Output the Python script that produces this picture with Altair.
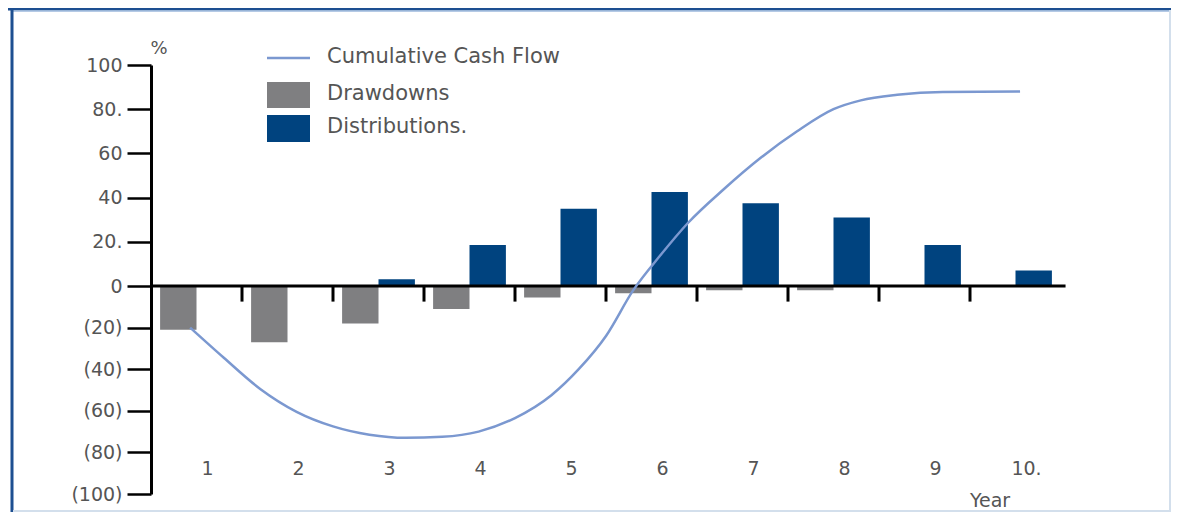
import altair as alt
import pandas as pd

# ---------------- data ----------------
years = [1, 2, 3, 4, 5, 6, 7, 8, 9, 10]
year_labels = ["1", "2", "3", "4", "5", "6", "7", "8", "9", "10."]
drawdowns = [-21, -27, -18, -11, -5.5, -3.5, -2, -2, 0, 0]
distributions = [0, 0, 3, 18.5, 35, 42.5, 37.5, 31, 18.5, 7]

curve_x = [0.93, 1.3, 1.7, 2.1, 2.5, 2.9, 3.3, 3.7, 4.1, 4.5, 4.9, 5.2,
           5.5, 5.8, 6.1, 6.4, 6.8, 7.2, 7.6, 8.0, 8.3, 8.7, 9.2, 10.05]
curve_y = [-20, -34.5, -49.5, -60.5, -67.5, -71.5, -73, -72.5, -70, -63.5, -52.5, -40,
           -24, -2, 14, 28.5, 44, 58, 70, 80, 84, 86.5, 87.8, 88]

y_ticks = [100, 80, 60, 40, 20, 0, -20, -40, -60, -80, -100]
y_tick_labels = ["100", "80.", "60", "40", "20.", "0", "(20)", "(40)", "(60)", "(80)", "(100)"]
legend_labels = ["Cumulative Cash Flow", "Drawdowns", "Distributions."]

# ---------------- styles ----------------
GRAY = "#7f7f81"
BLUE = "#00437f"
LINE = "#7b98d0"
TEXT = "#555555"
FONT = "DejaVu Sans"
W, H = 910, 429

df = pd.DataFrame({"year": years, "label": year_labels,
                   "drawdown": drawdowns, "distribution": distributions})
curve = pd.DataFrame({"cx": curve_x, "cy": curve_y})
one = pd.DataFrame({"a": [0]})

xscale = alt.Scale(domain=[0.5, 10.5], nice=False, zero=False)
yscale = alt.Scale(domain=[-100, 0, 100], range=[H, 221, 0], nice=False, zero=False)

label_expr = " : ".join(f"datum.value == {v} ? '{l}'" for v, l in zip(y_ticks, y_tick_labels)) + " : ''"
yaxis = alt.Axis(values=y_ticks, labelExpr=label_expr, title=None, grid=False,
                 domainColor="black", domainWidth=3, tickColor="black", tickWidth=2.5,
                 tickSize=24, labelFontSize=19, labelColor=TEXT, labelFont=FONT,
                 labelPadding=5)

gray_bars = alt.Chart(df).transform_filter("datum.drawdown < 0").transform_calculate(
    x0="datum.year - 0.4", x1="datum.year"
).mark_bar(color=GRAY).encode(
    x=alt.X("x0:Q", scale=xscale, axis=None),
    x2="x1:Q",
    y=alt.Y("drawdown:Q", scale=yscale, axis=yaxis),
    y2=alt.Y2(datum=0),
)

blue_bars = alt.Chart(df).transform_filter("datum.distribution > 0").transform_calculate(
    x0="datum.year", x1="datum.year + 0.4"
).mark_bar(color=BLUE).encode(
    x=alt.X("x0:Q", scale=xscale, axis=None),
    x2="x1:Q",
    y=alt.Y("distribution:Q", scale=yscale, axis=yaxis),
    y2=alt.Y2(datum=0),
)

x_axis_line = alt.Chart(one).mark_rule(color="black", strokeWidth=3).encode(
    x=alt.X(datum=0.5, scale=xscale, axis=None),
    x2=alt.X2(datum=10.55),
    y=alt.Y(datum=0, scale=yscale, axis=yaxis),
)

x_ticks = alt.Chart(df).transform_filter("datum.year < 10").transform_calculate(
    b="datum.year + 0.5"
).mark_rule(color="black", strokeWidth=3).encode(
    x=alt.X("b:Q", scale=xscale, axis=None),
    y=alt.Y(datum=0, scale=yscale, axis=yaxis),
    y2=alt.Y2(datum=-7.5),
)

x_labels = alt.Chart(df).mark_text(font=FONT, fontSize=19, color=TEXT, dx=11,
                                   baseline="middle", align="center").encode(
    x=alt.X("year:Q", scale=xscale, axis=None),
    y=alt.Y(datum=-88, scale=yscale, axis=yaxis),
    text="label:N",
)

cum_line = alt.Chart(curve).mark_line(color=LINE, strokeWidth=2.5, interpolate="monotone").encode(
    x=alt.X("cx:Q", scale=xscale, axis=None),
    y=alt.Y("cy:Q", scale=yscale, axis=yaxis),
)

year_title = alt.Chart(one).mark_text(text="Year", font=FONT, fontSize=19, color=TEXT,
                                      baseline="middle", align="center").encode(
    x=alt.value(839), y=alt.value(436))

pct = alt.Chart(one).mark_text(text="%", font=FONT, fontSize=18, color=TEXT,
                               baseline="middle", align="center").encode(
    x=alt.value(8), y=alt.value(-16))

# ---------------- legend ----------------
leg_line = alt.Chart(one).mark_rule(color=LINE, strokeWidth=2.5).encode(
    x=alt.value(116), x2=alt.value(159), y=alt.value(-7))
leg_gray = alt.Chart(one).mark_rect(color=GRAY).encode(
    x=alt.value(116), x2=alt.value(159), y=alt.value(17), y2=alt.value(43))
leg_blue = alt.Chart(one).mark_rect(color=BLUE).encode(
    x=alt.value(116), x2=alt.value(159), y=alt.value(50), y2=alt.value(77))
leg_t1 = alt.Chart(one).mark_text(text=legend_labels[0], font=FONT, fontSize=21, color=TEXT,
                                  align="left", baseline="middle").encode(
    x=alt.value(176), y=alt.value(-8))
leg_t2 = alt.Chart(one).mark_text(text=legend_labels[1], font=FONT, fontSize=21, color=TEXT,
                                  align="left", baseline="middle").encode(
    x=alt.value(176), y=alt.value(29))
leg_t3 = alt.Chart(one).mark_text(text=legend_labels[2], font=FONT, fontSize=21, color=TEXT,
                                  align="left", baseline="middle").encode(
    x=alt.value(176), y=alt.value(62))

# ---------------- frame ----------------
frame_top = alt.Chart(one).mark_rule(color="#1d4f91", strokeWidth=3).encode(
    x=alt.value(-143), x2=alt.value(1020), y=alt.value(-56))
frame_top2 = alt.Chart(one).mark_rule(color="#9cb9dc", strokeWidth=1.5).encode(
    x=alt.value(-140), x2=alt.value(1020), y=alt.value(-54))
frame_left = alt.Chart(one).mark_rule(color="#1d4f91", strokeWidth=3).encode(
    x=alt.value(-139), y=alt.value(-57), y2=alt.value(447))
frame_right = alt.Chart(one).mark_rule(color="#d3dfec", strokeWidth=2).encode(
    x=alt.value(1019), y=alt.value(-55), y2=alt.value(447))
frame_bottom = alt.Chart(one).mark_rule(color="#d3dfec", strokeWidth=2).encode(
    x=alt.value(-138), x2=alt.value(1020), y=alt.value(446))

chart = alt.layer(
    gray_bars, blue_bars, x_axis_line, x_ticks, cum_line, x_labels, year_title, pct,
    leg_line, leg_gray, leg_blue, leg_t1, leg_t2, leg_t3,
    frame_top, frame_top2, frame_left, frame_right, frame_bottom,
).properties(
    width=W, height=H,
    autosize=alt.AutoSizeParams(type="none"),
    padding={"left": 143, "top": 57, "right": 110, "bottom": 19},
    background="white",
).configure_view(stroke=None)

chart.save("out.html", embed_options={"renderer": "svg", "actions": False})
